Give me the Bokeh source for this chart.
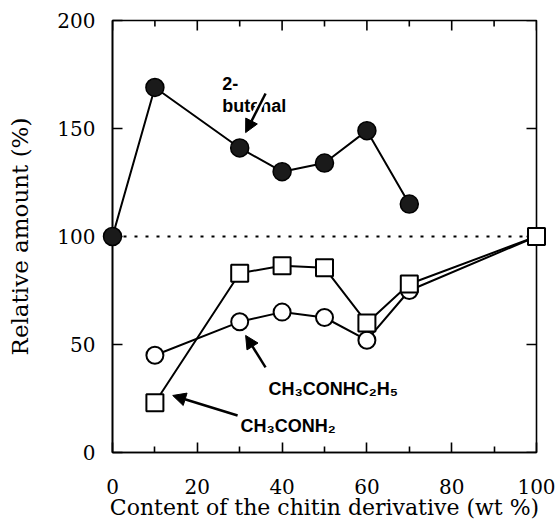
import math
from bokeh.plotting import figure
from bokeh.models import Range1d, FixedTicker, Arrow, NormalHead
from bokeh.core.properties import value
from bokeh.embed import file_html
from bokeh.resources import INLINE

# ---- data ----
content_a = [0, 10, 30, 40, 50, 60, 70]
butenal = [100, 169, 141, 130, 134, 149, 115]
content_b = [10, 30, 40, 50, 60, 70, 100]
ch3conh2 = [23, 83, 86.5, 85.5, 60, 78, 100]
ch3conhc2h5 = [45, 60.5, 65, 62.5, 52, 75, 100]
ref_x = [0, 100]
ref_y = [100, 100]
x_ticks = [0, 20, 40, 60, 80, 100]
x_minor = [10, 30, 50, 70, 90]
y_ticks = [0, 50, 100, 150, 200]

# annotations
lab_text = ["2-", "butenal", "CH\u2083CONHC\u2082H\u2085", "CH\u2083CONH\u2082"]
lab_x = [25.9, 25.9, 36.8, 30.2]
lab_y = [170.8, 160.6, 29.6, 12.5]
arr_x0 = [36.1, 36.1, 29.5]
arr_y0 = [166.2, 39.4, 17.1]
arr_x1 = [31.4, 31.4, 14.2]
arr_y1 = [148.1, 54.2, 26.4]

SERIF = "DejaVu Serif"
X0, X1 = x_ticks[0], x_ticks[-1]
Y0, Y1 = y_ticks[0], y_ticks[-1]

p = figure(width=558, height=523, x_range=Range1d(X0, X1), y_range=Range1d(Y0, Y1),
           output_backend="svg", toolbar_location=None,
           min_border_left=112, min_border_right=22, min_border_top=20, min_border_bottom=71)
p.grid.visible = False
p.outline_line_color = "black"
p.outline_line_width = 1.6
p.background_fill_color = "white"

def style_axis(ax, ticks, minor):
    ax.ticker = FixedTicker(ticks=ticks, minor_ticks=minor)
    ax.axis_line_color = "black"
    ax.axis_line_width = 1.6
    ax.major_tick_in = 10
    ax.major_tick_out = 0
    ax.major_tick_line_width = 1.6
    ax.minor_tick_in = 6
    ax.minor_tick_out = 0
    ax.minor_tick_line_width = 1.6
    ax.major_label_text_font = SERIF
    ax.major_label_text_font_size = "20px"
    ax.major_label_text_color = "black"
    ax.axis_label_text_font = SERIF
    ax.axis_label_text_font_style = "normal"
    ax.axis_label_text_color = "black"

style_axis(p.xaxis[0], x_ticks, x_minor)
style_axis(p.yaxis[0], y_ticks, [])
p.xaxis[0].axis_label = "Content of the chitin derivative (wt %)"
p.yaxis[0].axis_label = "Relative amount (%)"
p.xaxis[0].major_label_standoff = 26
p.xaxis[0].axis_label_standoff = -2
p.xaxis[0].axis_label_text_font_size = "22px"
p.yaxis[0].major_label_standoff = 17
p.yaxis[0].axis_label_standoff = 21
p.yaxis[0].axis_label_text_font_size = "23px"

# inward ticks on top and right frame edges (outer halves clipped by the frame)
p.scatter(x_ticks, [Y1] * len(x_ticks), marker="dash", size=20, angle=math.pi / 2,
          line_color="black", line_width=1.6)
p.scatter(x_minor, [Y1] * len(x_minor), marker="dash", size=12, angle=math.pi / 2,
          line_color="black", line_width=1.6)
p.scatter([X1] * len(y_ticks), y_ticks, marker="dash", size=20,
          line_color="black", line_width=1.6)

# reference dotted line
p.line(ref_x, ref_y, line_color="black", line_width=2, line_dash="3 8")

# lines
p.line(content_b, ch3conh2, line_color="black", line_width=2)
p.line(content_b, ch3conhc2h5, line_color="black", line_width=2)
p.line(content_a, butenal, line_color="black", line_width=2)

# text labels
p.text(lab_x, lab_y, text=lab_text, text_font=value("Liberation Sans"),
       text_font_style="bold", text_font_size="18px", text_color="black",
       text_baseline="alphabetic", text_align="left")

# white eraser under first arrow (overlapping the word)
p.segment(arr_x0[:1], arr_y0[:1], arr_x1[:1], arr_y1[:1], line_color="white", line_width=7)

# markers
r1 = p.scatter(content_b, ch3conhc2h5, marker="circle", size=17, fill_color="white",
               line_color="black", line_width=2)
r2 = p.scatter(content_b, ch3conh2, marker="square", size=17, fill_color="white",
               line_color="black", line_width=2)
r3 = p.scatter(content_a, butenal, marker="circle", size=18, fill_color="#1a1a1a",
               line_color="black", line_width=1.5)
for r in (r1, r2, r3):
    r.level = "overlay"

for x0, y0, x1, y1 in zip(arr_x0, arr_y0, arr_x1, arr_y1):
    p.add_layout(Arrow(end=NormalHead(size=13, fill_color="black", line_color="black"),
                       x_start=x0, y_start=y0, x_end=x1, y_end=y1,
                       line_color="black", line_width=2.5))

open("out.html", "w").write(file_html(p, INLINE))
